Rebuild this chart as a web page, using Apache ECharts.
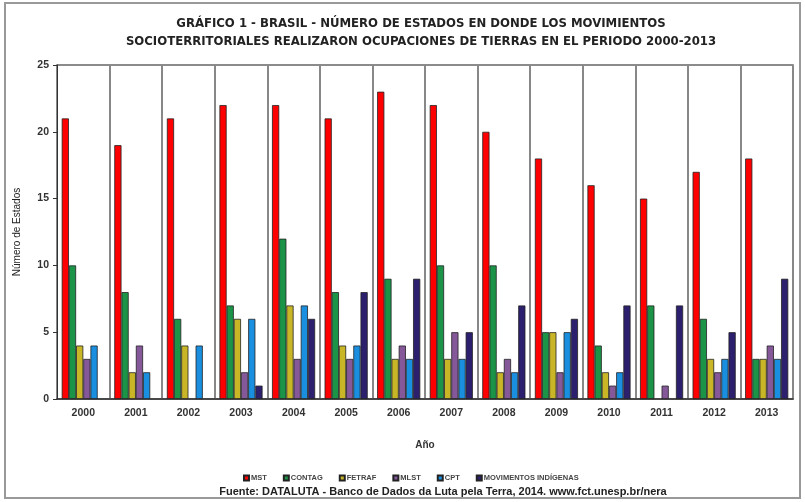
<!DOCTYPE html>
<html>
<head>
<meta charset="utf-8">
<script src="https://cdn.jsdelivr.net/npm/echarts@6/dist/echarts.min.js"></script>
<style>
  html, body { margin: 0; padding: 0; background: #fff; }
  #main { width: 805px; height: 502px; }
</style>
</head>
<body>
<div id="main"></div>
<script>
const years = ['2000', '2001', '2002', '2003', '2004', '2005', '2006', '2007', '2008', '2009', '2010', '2011', '2012', '2013'];

// '-' = sin barra ese año
const mst      = [21, 19, 21, 22, 22, 21, 23, 22, 20, 18, 16, 15, 17, 18];
const contag   = [10, 8, 6, 7, 12, 8, 9, 10, 10, 5, 4, 7, 6, 3];
const fetraf   = [4, 2, 4, 6, 7, 4, 3, 3, 2, 5, 2, '-', 3, 3];
const mlst     = [3, 4, '-', 2, 3, 3, 4, 5, 3, 2, 1, 1, 2, 4];
const cpt      = [4, 2, 4, 6, 7, 4, 3, 3, 2, 5, 2, '-', 3, 3];
const indigena = ['-', '-', '-', 1, 6, 8, 9, 5, 7, 6, 7, 7, 5, 9];

const seriesDefs = [
    { name: 'MST', data: mst, color: '#ff0000' },
    { name: 'CONTAG', data: contag, color: '#1b9448' },
    { name: 'FETRAF', data: fetraf, color: '#c9b627' },
    { name: 'MLST', data: mlst, color: '#85589a' },
    { name: 'CPT', data: cpt, color: '#1a8fe0' },
    { name: 'MOVIMENTOS INDÍGENAS', data: indigena, color: '#2c1f6e' }
];

const fontFam = 'Liberation Sans, Arial, sans-serif';
const chart = echarts.init(document.getElementById('main'));

const option = {
    animation: false,
    backgroundColor: '#fff',
    grid: {
        left: 57, right: 12, top: 65, bottom: 103,
        show: true, borderColor: '#666', borderWidth: 1.5
    },
    legend: {
        data: seriesDefs.map(s => s.name),
        left: 238, top: 469,
        itemWidth: 5, itemHeight: 5, itemGap: 16,
        icon: 'rect',
        textStyle: { fontSize: 7.5, fontWeight: 'bold', color: '#444', fontFamily: fontFam, padding: [0, 0, 0, -3] }
    },
    xAxis: {
        type: 'category',
        data: years,
        name: 'Año',
        nameLocation: 'middle',
        nameGap: 41,
        nameTextStyle: { fontSize: 10, fontWeight: 'bold', color: '#333', fontFamily: fontFam },
        axisLine: { lineStyle: { color: '#333', width: 1.5 } },
        axisTick: { show: false },
        axisLabel: { fontSize: 10.5, fontWeight: 'bold', color: '#333', margin: 9, fontFamily: fontFam },
        splitLine: { show: true, lineStyle: { color: '#888', width: 2 } }
    },
    yAxis: {
        type: 'value',
        min: 0, max: 25, interval: 5,
        name: 'Número de Estados',
        nameLocation: 'middle',
        nameGap: 35,
        nameTextStyle: { fontSize: 10, color: '#222', fontFamily: fontFam },
        axisLine: { show: true, lineStyle: { color: '#333', width: 1 } },
        axisTick: { show: true, length: 4, lineStyle: { color: '#333' } },
        axisLabel: { fontSize: 10.5, fontWeight: 'bold', color: '#333', margin: 8, fontFamily: fontFam },
        splitLine: { show: false }
    },
    series: seriesDefs.map(s => ({
        name: s.name,
        type: 'bar',
        data: s.data,
        barGap: '0%',
        barCategoryGap: '18%',
        itemStyle: { color: s.color, borderColor: '#222', borderWidth: 0.8 }
    })),
    graphic: [
        {
            type: 'rect',
            shape: { x: 5, y: 3, width: 795, height: 495 },
            style: { fill: 'none', stroke: '#999', lineWidth: 2 },
            z: -1
        },
        {
            type: 'text', x: 421, y: 15,
            style: {
                text: 'GRÁFICO 1 - BRASIL - NÚMERO DE ESTADOS EN DONDE LOS MOVIMIENTOS\nSOCIOTERRITORIALES REALIZARON OCUPACIONES DE TIERRAS EN EL PERIODO 2000-2013',
                font: 'bold 13px "Liberation Sans Narrow", "DejaVu Sans Condensed", sans-serif',
                fill: '#222', align: 'center', lineHeight: 18
            }
        },
        {
            type: 'text', x: 443, y: 486,
            style: {
                text: 'Fuente: DATALUTA - Banco de Dados da Luta pela Terra, 2014. www.fct.unesp.br/nera',
                font: 'bold 11px "Liberation Sans", Arial, sans-serif',
                fill: '#222', align: 'center'
            }
        }
    ]
};

chart.setOption(option);
</script>
</body>
</html>
